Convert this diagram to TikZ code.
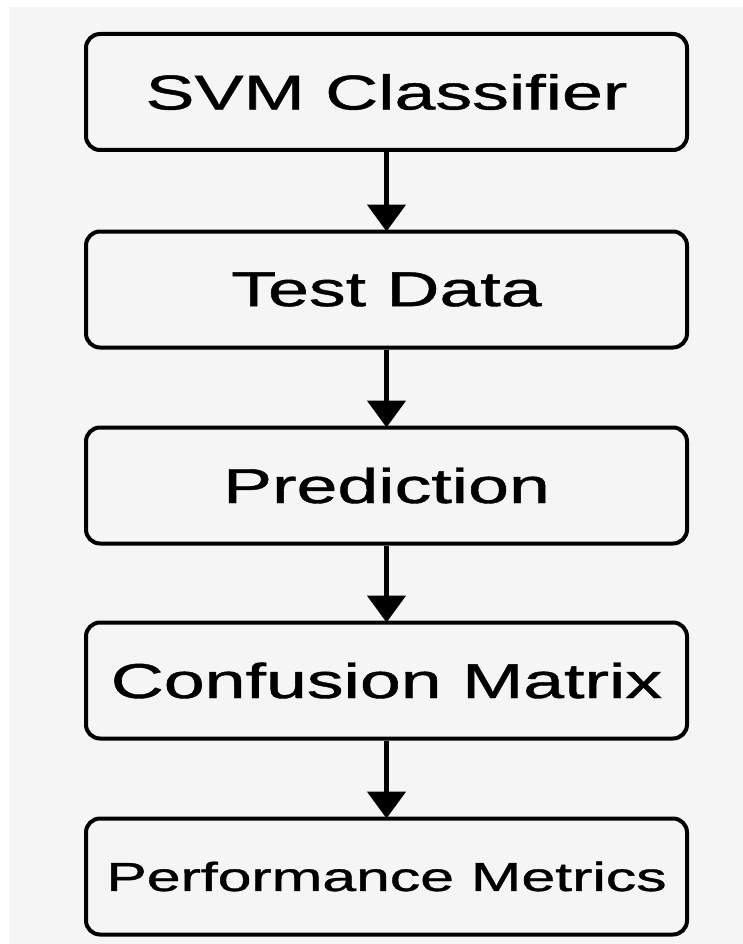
\documentclass[tikz,border=0pt]{standalone}
\usepackage{fontspec}
\setmainfont{Liberation Sans}
\newfontfamily\heavysans[FakeBold=0.8]{Liberation Sans}
\usetikzlibrary{arrows.meta}
\definecolor{pagebg}{HTML}{F5F5F5}
\tikzset{
  flowbox/.style={draw=black, line width=4pt, rounded corners=14pt, fill=pagebg,
    minimum width=601pt, minimum height=116pt, inner sep=0pt, align=center},
  bigtext/.style={font=\heavysans\fontsize{49}{55}\selectfont},
  smalltext/.style={font=\heavysans\fontsize{40.5}{46}\selectfont},
  flowarrow/.style={line width=5pt, -{Triangle[width=38pt,length=27pt]}, shorten >=-2pt}
}
\newcommand{\wide}[1]{\scalebox{1.5}[1]{#1}}
\begin{document}
\begin{tikzpicture}[x=1pt, y=-1pt]
  % page and backdrop
  \fill[white] (0,0) rectangle (743,944);
  \fill[pagebg] (9,7) rectangle (743,944);
  \useasboundingbox (0,0) rectangle (743,944);

  \node[flowbox, bigtext] (svm) at (386.5,92) {\wide{SVM Classifier}};
  \node[flowbox, bigtext] (test) at (386.5,289.5) {\wide{Test Data}};
  \node[flowbox, bigtext] (pred) at (386.5,485.5) {\wide{Prediction}};
  \node[flowbox, bigtext] (conf) at (386.5,680.5) {\wide{Confusion Matrix}};
  \node[flowbox, smalltext] (perf) at (386.5,876.5) {\wide{Performance Metrics}};

  \draw[flowarrow] (svm) -- (test);
  \draw[flowarrow] (test) -- (pred);
  \draw[flowarrow] (pred) -- (conf);
  \draw[flowarrow] (conf) -- (perf);
\end{tikzpicture}
\end{document}
